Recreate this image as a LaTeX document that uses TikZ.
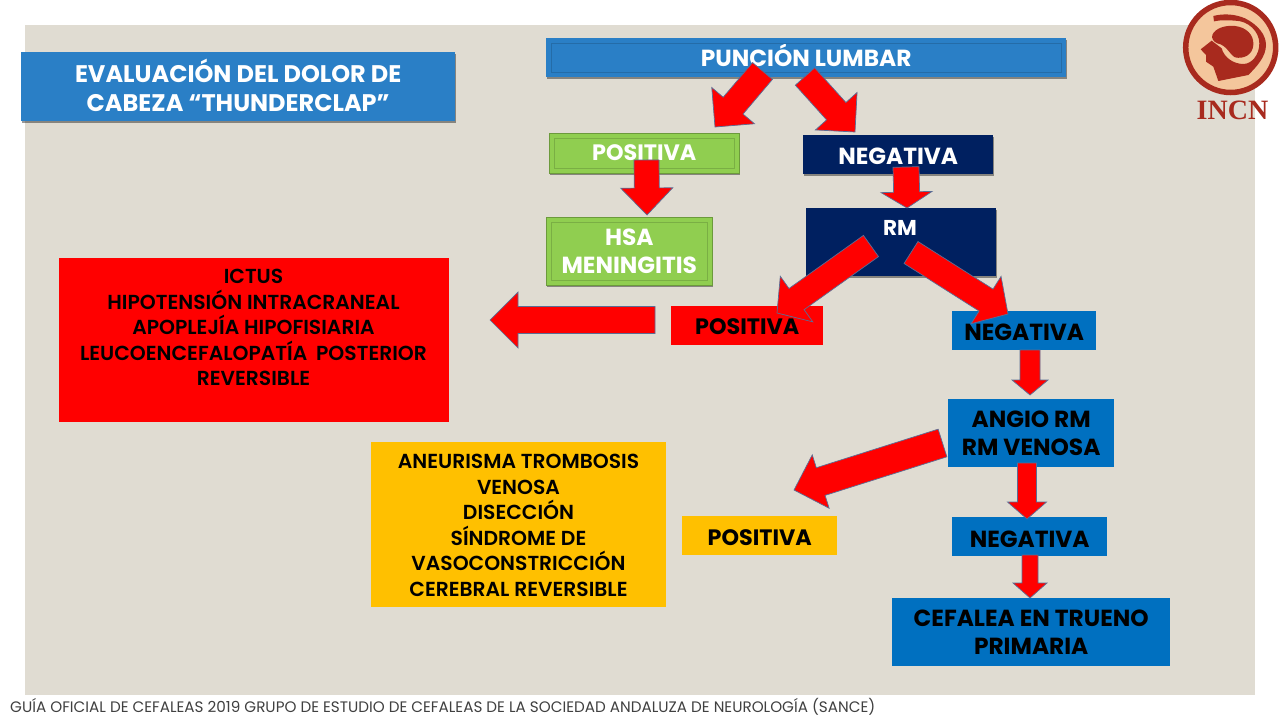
\documentclass[tikz,border=0pt]{standalone}
\usepackage{fontspec}
\setmainfont{Poppins}
\newfontfamily\semifont{Poppins SemiBold}
\newfontfamily\logofont{Liberation Serif}
\usetikzlibrary{calc,shadows}
\definecolor{bgc}{HTML}{E0DCD2}
\definecolor{titleblue}{HTML}{2A7FC6}
\definecolor{sgreen}{HTML}{90CE50}
\definecolor{navy}{HTML}{002060}
\definecolor{mblue}{HTML}{0070C0}
\definecolor{yel}{HTML}{FFC000}
\definecolor{logored}{HTML}{A82A1E}
\definecolor{logopeach}{HTML}{F4C69C}
\definecolor{edgec}{HTML}{5A6E96}
\tikzset{
  x=1pt,y=-1pt,
  bigtext/.style={font=\fontsize{23.3}{28}\selectfont\bfseries},
  postext/.style={font=\fontsize{22.3}{28}\selectfont\bfseries},
  boxbase/.style={anchor=north west,inner sep=0pt,align=center,bigtext},
  shadowed/.style={drop shadow={shadow xshift=1pt,shadow yshift=-2pt,opacity=.4,fill=black}},
  bluebox/.style={boxbase,fill=titleblue,text=white,shadowed},
  greenbox/.style={boxbase,fill=sgreen,text=white,draw=sgreen!75!black,line width=.6pt,shadowed},
  navybox/.style={boxbase,fill=navy,text=white,shadowed},
  redbox/.style={boxbase,fill=red,text=black},
  yelbox/.style={boxbase,fill=yel,text=black},
  mbluebox/.style={boxbase,fill=mblue,text=black},
  smalltext/.style={font=\fontsize{20.3}{25.5}\semifont},
  redarrow/.style={fill=red,draw=edgec,line width=.7pt,line join=miter},
  innerline/.style={draw=#1,line width=.5pt},
}
% move a text up or down without changing the size of its box
\newcommand{\nudged}[2]{\raisebox{#1}[\height][\depth]{#2}}
% tail, tip, half shaft, half head, head length
\newcommand{\blockarrow}[5]{%
  \coordinate (hb) at ($(#2)!#5!(#1)$);
  \path[redarrow] ($(#1)!#3!90:(#2)$) -- ($(hb)!#3!90:(#2)$) -- ($(hb)!#4!90:(#2)$) -- (#2)
     -- ($(hb)!#4!-90:(#2)$) -- ($(hb)!#3!-90:(#2)$) -- ($(#1)!#3!-90:(#2)$) -- cycle;
}
\newcommand{\innerframe}[2]{%
  \path[innerline=#2] ($(#1.north west)+(5,5)$) rectangle ($(#1.south east)+(-5,-5)$);
}
\begin{document}
\begin{tikzpicture}
\useasboundingbox (0,0) rectangle (1280,720);
\fill[white] (0,0) rectangle (1280,720);
\fill[bgc] (25,25) rectangle (1255,695);

% boxes
\node[bluebox,minimum width=434pt,minimum height=69pt,font=\fontsize{24}{28}\selectfont\bfseries] (title) at (21,52) {\nudged{2pt}{EVALUACIÓN DEL DOLOR DE}\\\nudged{1pt}{CABEZA “THUNDERCLAP”}};
\node[bluebox,minimum width=520pt,minimum height=39pt] (puncion) at (546,38) {\nudged{2pt}{PUNCIÓN LUMBAR}};
\innerframe{puncion}{titleblue!85!black}
\node[greenbox,minimum width=190pt,minimum height=40pt,postext] (pos1) at (549,133) {\nudged{1pt}{POSITIVA}};
\innerframe{pos1}{sgreen!85!black}
\node[navybox,minimum width=190pt,minimum height=39pt] (neg1) at (803,135) {\nudged{-2pt}{NEGATIVA}};
\node[greenbox,minimum width=166pt,minimum height=68pt] (hsa) at (546,217) {HSA\\MENINGITIS};
\innerframe{hsa}{sgreen!85!black}
\node[navybox,minimum width=190pt,minimum height=68pt] (rm) at (806,208) {};
\node[inner sep=0pt,text=white,font=\fontsize{21.5}{24}\selectfont\bfseries] (rmlabel) at (900,228) {RM};
\node[redbox,minimum width=152pt,minimum height=39pt,postext] (pos2) at (671,306) {\nudged{-1pt}{POSITIVA}};
\node[mbluebox,minimum width=144pt,minimum height=39pt] (neg2) at (952,311) {\nudged{-2pt}{NEGATIVA}};
\node[mbluebox,minimum width=166pt,minimum height=68pt] (angio) at (948,399) {ANGIO RM\\RM VENOSA};
\node[mbluebox,minimum width=155pt,minimum height=39pt] (neg3) at (952,517) {\nudged{-3pt}{NEGATIVA}};
\node[yelbox,minimum width=155pt,minimum height=39pt,postext] (pos3) at (682,516) {\nudged{-2pt}{POSITIVA}};
\node[mbluebox,minimum width=278pt,minimum height=68pt] (cef) at (892,598) {CEFALEA EN TRUENO\\PRIMARIA};

\node[redbox,minimum width=390pt,minimum height=164pt] (dx1) at (59,258) {};
\node[inner sep=0pt,align=center,smalltext,anchor=north] (dx1t) at (253.5,269) {ICTUS\\HIPOTENSIÓN INTRACRANEAL\\APOPLEJÍA HIPOFISIARIA\\LEUCOENCEFALOPATÍA\hspace{4pt} POSTERIOR\\REVERSIBLE};
\node[yelbox,minimum width=295pt,minimum height=165pt] (dx2) at (371,442) {};
\node[inner sep=0pt,align=center,smalltext,anchor=north] (dx2t) at (518.5,454) {ANEURISMA TROMBOSIS\\VENOSA\\DISECCIÓN\\SÍNDROME DE\\VASOCONSTRICCIÓN\\CEREBRAL REVERSIBLE};

% arrows
\coordinate (a1s) at (762.5,71);  \coordinate (a1t) at (715,127);
\coordinate (a2s) at (805,76.5);  \coordinate (a2t) at (855,132);
\coordinate (a3s) at (646.5,160); \coordinate (a3t) at (647,215);
\coordinate (a4s) at (906,167);   \coordinate (a4t) at (907,208);
\coordinate (a5s) at (871,246);   \coordinate (a5t) at (777,313);
\coordinate (a6s) at (911,252.5); \coordinate (a6t) at (1008,314);
\coordinate (a7s) at (655,320);   \coordinate (a7t) at (490,320);
\coordinate (a8s) at (1030,350);  \coordinate (a8t) at (1030,395);
\coordinate (a9s) at (942.5,443); \coordinate (a9t) at (794,490);
\coordinate (a10s) at (1027,463); \coordinate (a10t) at (1027,519);
\coordinate (a11s) at (1030,555); \coordinate (a11t) at (1030,598);
\blockarrow{a1s}{a1t}{13pt}{28pt}{28pt}
\blockarrow{a2s}{a2t}{13pt}{28pt}{28pt}
\blockarrow{a3s}{a3t}{12.5pt}{26pt}{27pt}
\blockarrow{a4s}{a4t}{13pt}{25.5pt}{16pt}
\blockarrow{a5s}{a5t}{13pt}{28pt}{24pt}
\blockarrow{a6s}{a6t}{13pt}{28pt}{26pt}
\blockarrow{a7s}{a7t}{13.5pt}{28pt}{28pt}
\blockarrow{a8s}{a8t}{10pt}{18pt}{15pt}
\blockarrow{a9s}{a9t}{14.5pt}{28pt}{28pt}
\blockarrow{a10s}{a10t}{9.5pt}{19.5pt}{17pt}
\blockarrow{a11s}{a11t}{8pt}{17pt}{15pt}

% logo
\node[circle,fill=logopeach,draw=logored,line width=5.5pt,minimum size=90pt,inner sep=0pt] (logo) at (1230.7,47.5) {};
\begin{scope}[shift={(1180,0)},x=.3333pt,y=-.3333pt]
\fill[logored] (62,148) -- (95,122) -- (125,145) .. controls (132,172) and (160,192) .. (190,192)
  .. controls (215,192) and (238,165) .. (238,130) .. controls (238,95) and (205,62) .. (165,62)
  .. controls (140,60) and (120,60) .. (102,64) -- (100,48)
  .. controls (130,40) and (165,42) .. (195,55) .. controls (235,75) and (258,105) .. (258,135)
  .. controls (258,170) and (230,200) .. (205,225) -- (115,243) -- (100,200) -- (78,185) -- (78,165) -- cycle;
\fill[logored] (97,105) .. controls (105,85) and (135,75) .. (165,78)
  .. controls (200,82) and (222,105) .. (220,135) .. controls (218,165) and (190,178) .. (165,172)
  .. controls (150,165) and (140,135) .. (112,130) .. controls (100,125) and (94,115) .. (97,105) -- cycle;
\end{scope}
\node[inner sep=0pt,text=logored,font=\fontsize{28}{30}\logofont\bfseries] (incn) at (1232.5,110.5) {INCN};

% footer
\node[anchor=west,inner sep=0pt,text=black!75,font=\fontsize{15.2}{18}\selectfont] (foot) at (10,707) {GUÍA OFICIAL DE CEFALEAS 2019 GRUPO DE ESTUDIO DE CEFALEAS DE LA SOCIEDAD ANDALUZA DE NEUROLOGÍA (SANCE)};
\end{tikzpicture}
\end{document}
